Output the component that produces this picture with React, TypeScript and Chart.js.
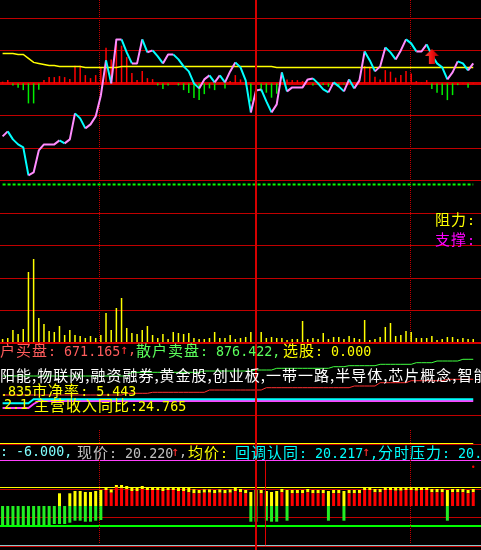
import React, { useEffect, useRef } from 'react';
import { Chart, registerables } from 'chart.js';

Chart.register(...registerables);

// ---------- session slots (93 minute slots, the last one still open) ----------
const slots: string[] = Array.from({ length: 93 }, (_, i) => `m${i + 1}`);

// ---------- intraday price panel ----------
const lastPrice = [
  20.147, 20.152, 20.144, 20.139, 20.136, 20.108, 20.111, 20.133, 20.139, 20.139,
  20.139, 20.143, 20.140, 20.144, 20.170, 20.165, 20.155, 20.159, 20.167, 20.188,
  20.223, 20.200, 20.244, 20.244, 20.231, 20.220, 20.220, 20.244, 20.231, 20.233,
  20.227, 20.220, 20.229, 20.229, 20.224, 20.217, 20.212, 20.200, 20.195, 20.204,
  20.208, 20.201, 20.208, 20.201, 20.212, 20.221, 20.216, 20.203, 20.171, 20.193,
  20.194, 20.182, 20.171, 20.179, 20.211, 20.192, 20.196, 20.196, 20.196, 20.204,
  20.205, 20.200, 20.194, 20.191, 20.201, 20.197, 20.192, 20.204, 20.195, 20.203,
  20.232, 20.223, 20.212, 20.217, 20.236, 20.231, 20.224, 20.233, 20.244, 20.240,
  20.232, 20.232, 20.239, 20.228, 20.220, 20.216, 20.204, 20.211, 20.222, 20.220,
  20.213, 20.220,
];

const avgPrice = [
  20.230, 20.230, 20.230, 20.229, 20.229, 20.225, 20.221, 20.220, 20.219, 20.218,
  20.218, 20.217, 20.217, 20.217, 20.217, 20.217, 20.216, 20.216, 20.216, 20.216,
  20.216, 20.216, 20.216, 20.217, 20.217, 20.217, 20.217, 20.217, 20.217, 20.217,
  20.217, 20.217, 20.217, 20.217, 20.217, 20.217, 20.217, 20.217, 20.217, 20.217,
  20.217, 20.217, 20.217, 20.217, 20.217, 20.217, 20.217, 20.217, 20.217, 20.217,
  20.217, 20.217, 20.217, 20.216, 20.216, 20.216, 20.216, 20.216, 20.216, 20.216,
  20.216, 20.216, 20.216, 20.216, 20.216, 20.216, 20.216, 20.216, 20.216, 20.216,
  20.216, 20.216, 20.216, 20.216, 20.216, 20.216, 20.216, 20.216, 20.216, 20.216,
  20.216, 20.216, 20.216, 20.216, 20.216, 20.216, 20.216, 20.216, 20.216, 20.216,
  20.216, 20.216,
];

const supportLevel = 20.099;
const buySignalSlot = 83;
const buySignalPrice = 20.227;

// red/green momentum bars around the zero line
const momentum = [
  1.7, 3.3, -2, -4.3, -6.7, -20, -20, -6.3, 3.3, 6.3,
  6.3, 7.3, 6.3, 4.3, 17.7, 17.7, 8.3, 5.3, 8.3, 16.3,
  35.7, 24, 40, 37.7, 26.3, 10.3, 3.3, 12.3, 5.3, 4.3,
  -2, -5.7, -2, 0, -2, -6.7, -9.7, -14.7, -16.7, -10.7,
  -5, -6.7, 0.7, -5, 2.3, 8.3, 4, -1.7, -18, -11.7,
  -8, -9.3, -14.3, -10.3, 1, 4, 3.3, 3.3, 2.3, 0,
  -2, -1.7, -1.7, -3.3, 0, -2, -1, 1, 1, 2,
  17.3, 16.7, 6.7, 4, 13.3, 11.7, 5.7, 8.3, 12.3, 10,
  2.3, 1, 3.3, -5.7, -9.3, -11.7, -16.7, -11.7, -1.7, 0.5,
  -4.3, 0.5,
];

// minute volume
const volume = [
  3, 4, 12, 8, 13, 70, 83, 24, 18, 11,
  10, 16, 7, 12, 7, 6, 4, 6, 4, 7,
  29, 12, 34, 44, 14, 9, 8, 12, 16, 7,
  4, 8, 3, 10, 9, 8, 9, 4, 3, 3,
  4, 10, 4, 4, 7, 3, 4, 5, 10, 5,
  10, 4, 5, 4, 4, 2, 3, 3, 21, 3,
  4, 3, 9, 3, 5, 5, 3, 6, 4, 3,
  22, 2, 3, 5, 15, 19, 6, 7, 11, 10,
  4, 4, 4, 6, 2, 3, 5, 5, 3, 4,
  3, 3,
];

// ---------- capital flow strip ----------
const flowGreen = [
  54, 54, 54, 54, 54, 54, 54, 54, 54, 54,
  54, 54, 54, 54, 54, 54, 54, 54, 54, 54,
  54, 54, 54, 54, 54, 57.7, 57.7, 57.7, 57.7, 57.7,
  57.7, 57.7, 57.7, 57.7, 57.7, 57.7, 57.7, 57.7, 57.7, 59,
  59, 59, 59, 59, 59, 59, 59, 59, 59, 60,
  60, 60, 60, 61.7, 61.7, 61.7, 61.7, 61.7, 61.7, 61.7,
  61.7, 61.7, 61.7, 61.7, 63.3, 63.3, 63.3, 64.3, 64.3, 64.3,
  64.3, 64.3, 64.3, 65.7, 65.7, 65.7, 65.7, 65.7, 65.7, 65.7,
  67.3, 67.3, 67.3, 67.3, 69, 69, 69, 69, 69, 70.7,
  70.7, 70.7,
];

const flowRed = [
  35, 35, 35, 35, 35, 35, 35, 35, 35, 35,
  35, 35, 35, 35, 35, 35, 35, 35, 35, 35,
  35, 35, 35, 35, 36.7, 36.7, 36.7, 36.7, 36.7, 37.7,
  37.7, 37.7, 37.7, 37.7, 37.7, 37.7, 37.7, 37.7, 37.7, 37.7,
  40, 40, 40, 40, 40, 40, 40, 40, 40, 40,
  40, 42.3, 42.3, 42.3, 42.3, 42.3, 42.3, 42.3, 42.3, 42.3,
  42.3, 42.3, 42.3, 42.3, 42.3, 42.3, 42.3, 42.3, 44, 44,
  44, 44, 44, 47.3, 47.3, 47.3, 47.3, 47.3, 47.3, 49.3,
  49.3, 49.3, 49.3, 49.3, 49.3, 49.3, 50.7, 50.7, 50.7, 50.7,
  50.7, 50.7,
];

const bandCyan = [
  26.7, 26.7, 26.7, 26.7, 26.7, 26.7, 30.7, 30.7, 30.7, 30.7,
  30.7, 30.7, 30.7, 30.7, 30.7, 30.7, 30.7, 30.7, 30.7, 30.7,
  30.7, 30.7, 30.7, 30.7, 30.7, 30.7, 30.7, 30.7, 30.7, 30.7,
  30.7, 30.7, 30.7, 30.7, 30.7, 30.7, 30.7, 30.7, 30.7, 30.7,
  30.7, 30.7, 30.7, 30.7, 30.7, 30.7, 30.7, 30.7, 30.7, 30.7,
  30.7, 30.7, 30.7, 30.7, 30.7, 30.7, 30.7, 30.7, 30.7, 30.7,
  30.7, 30.7, 30.7, 30.7, 30.7, 30.7, 30.7, 30.7, 30.7, 30.7,
  30.7, 30.7, 30.7, 30.7, 30.7, 30.7, 30.7, 30.7, 30.7, 30.7,
  30.7, 30.7, 30.7, 30.7, 30.7, 30.7, 30.7, 30.7, 30.7, 30.7,
  30.7, 30.7,
];

const bandMagenta = [
  22, 22, 22, 22, 22, 22, 26, 29, 29, 29,
  29, 29, 29, 29, 29, 29, 29, 29, 29, 29,
  29, 29, 29, 29, 29, 29, 29, 29, 29, 29,
  29, 29, 29, 29, 29, 29, 29, 29, 29, 29,
  29, 29, 29, 29, 29, 29, 29, 29, 29, 29,
  29, 29, 29, 29, 29, 29, 29, 29, 29, 29,
  29, 29, 29, 29, 29, 29, 29, 29, 29, 29,
  29, 29, 29, 29, 29, 29, 29, 29, 29, 29,
  29, 29, 29, 29, 29, 29, 29, 29, 29, 29,
  29, 29,
];

// ---------- strength bars (bottom strip) ----------
const strengthRed = [
  0, 0, 0, 0, 0, 0, 0, 0, 0, 0,
  0, 0, 0, 0, 0, 0, 0, 0, 0, 0,
  16, 13.3, 18.7, 17.7, 16.7, 15, 15, 17, 16, 16,
  16, 15, 16, 16, 15, 15, 13.7, 12.7, 12.7, 13.3,
  13.3, 12.7, 13.3, 12.7, 13.3, 15, 13.7, 12.7, 0, 0,
  12.7, 0, 0, 0, 13.7, 0, 12.7, 12.7, 12.7, 13.7,
  12.7, 12.7, 12.7, 0, 12.7, 12.7, 0, 12.7, 12.7, 12.7,
  16, 16, 13.7, 13.7, 16, 16, 15.3, 15.3, 16, 16,
  15.3, 16, 16, 13.7, 13.7, 13.7, 0, 13.7, 13.7, 13.7,
  12.7, 13.7,
];

const strengthYellow = [
  0, 0, 0, 0, 0, 0, 0, 0, 0, 0,
  0, 12.7, 0, 12.7, 15, 15, 14, 14, 15, 16,
  2.7, 3.3, 2.3, 3.3, 3.3, 3.7, 3.7, 3, 2.7, 2.7,
  2.7, 3.7, 2.7, 2.7, 3.7, 3.7, 5, 4, 3.3, 3.3,
  3.3, 3.3, 3.3, 3.3, 3.3, 3.7, 3.3, 3.3, 14, 16,
  3.3, 15, 14, 15, 3.3, 16, 3.3, 3.3, 3.3, 3.3,
  3.3, 3.3, 3.3, 15, 3.3, 3.3, 15, 3.3, 3.3, 3.3,
  2.7, 2.7, 3.3, 3.3, 2.7, 2.7, 3.3, 3.3, 2.7, 2.7,
  3.3, 2.7, 2.7, 3.3, 3.3, 3.3, 16, 3.3, 3.3, 3.3,
  3.3, 3.3,
];

const strengthGreen = [
  -19, -19, -19, -19, -19, -19, -19, -19, -19, -19,
  -18, -18, -18, -16.7, -14.7, -14.7, -15.7, -15.7, -14.7, -14,
  0, 0, 0, 0, 0, 0, 0, 0, 0, 0,
  0, 0, 0, 0, 0, 0, 0, 0, 0, 0,
  0, 0, 0, 0, 0, 0, 0, 0, -15.7, -15.7,
  0, -14.7, -15.7, -15.7, 0, -14.7, 0, 0, 0, 0,
  0, 0, 0, -14.7, 0, 0, -14.7, 0, 0, 0,
  0, 0, 0, 0, 0, 0, 0, 0, 0, 0,
  0, 0, 0, 0, 0, 0, -14.7, 0, 0, 0,
  0, 0,
];

const pressureTickSlot = 91;
const pressureTickValue = 39.3;

// ---------- colours ----------
const PINK = '#ff8cff';
const CYAN = '#00ffff';
const GRID = '#c00000';
const GRID_BOLD = '#d40000';
const RED = '#ff0000';
const GREEN = '#00ee00';
const YELLOW = '#ffff00';
const MAGENTA = '#ff40ff';

const MONO = '"DejaVu Sans Mono", monospace';
const HAN = '"Noto Sans CJK SC", sans-serif';

type HLine = { axis: string; value: number; color: string; width?: number; dash?: number[]; until?: number };
type VLine = { at: number; color: string; width?: number; dash?: number[]; axis?: string; from?: number; to?: number; front?: boolean };

// reference lines painted through the chart's own scales
function guides(h: HLine[], v: VLine[]) {
  const paint = (chart: any, front: boolean) => {
    const { ctx, chartArea: a, scales } = chart;
    const xs = scales.x;
    ctx.save();
    if (!front) {
      for (const l of h) {
        const w = l.width ?? 1;
        const p = scales[l.axis].getPixelForValue(l.value);
        const y = w % 2 ? Math.floor(p) + 0.5 : Math.round(p);
        const x2 = l.until != null ? xs.getPixelForValue(l.until) : a.right;
        ctx.beginPath();
        ctx.lineWidth = w;
        ctx.strokeStyle = l.color;
        ctx.setLineDash(l.dash ?? []);
        ctx.moveTo(a.left, y);
        ctx.lineTo(x2, y);
        ctx.stroke();
      }
    }
    for (const l of v) {
      if (!!l.front !== front) continue;
      const w = l.width ?? 1;
      const p = xs.getPixelForValue(l.at);
      const x = w % 2 ? Math.floor(p) + 0.5 : Math.round(p);
      const s = l.axis ? scales[l.axis] : null;
      const y1 = s && l.to != null ? s.getPixelForValue(l.to) : a.top;
      const y2 = s && l.from != null ? s.getPixelForValue(l.from) : a.bottom;
      ctx.beginPath();
      ctx.lineWidth = w;
      ctx.strokeStyle = l.color;
      ctx.setLineDash(l.dash ?? []);
      ctx.moveTo(x, y1);
      ctx.lineTo(x, y2);
      ctx.stroke();
    }
    ctx.restore();
  };
  return {
    id: 'guides',
    beforeDatasetsDraw: (c: any) => paint(c, false),
    afterDatasetsDraw: (c: any) => paint(c, true),
  };
}

function baseOptions(scales: Record<string, any>, stackedX = false) {
  return {
    responsive: false,
    maintainAspectRatio: false,
    animation: false as const,
    events: [],
    layout: { padding: 0, autoPadding: false },
    plugins: { legend: { display: false }, tooltip: { enabled: false } },
    scales: {
      x: { type: 'category', offset: true, display: false, stacked: stackedX },
      ...scales,
    },
  };
}

const hidden = (min: number, max: number, extra: Record<string, any> = {}) => ({
  type: 'linear', display: false, min, max, ...extra,
});

function upArrow(): HTMLCanvasElement {
  const c = document.createElement('canvas');
  c.width = 14;
  c.height = 15;
  const g = c.getContext('2d')!;
  const grad = g.createLinearGradient(0, 0, 14, 0);
  grad.addColorStop(0, '#ff4a3a');
  grad.addColorStop(0.5, '#f01010');
  grad.addColorStop(1, '#b00000');
  g.fillStyle = grad;
  g.beginPath();
  g.moveTo(7, 0);
  g.lineTo(14, 7);
  g.lineTo(10, 7);
  g.lineTo(10, 15);
  g.lineTo(4, 15);
  g.lineTo(4, 7);
  g.lineTo(0, 7);
  g.closePath();
  g.fill();
  return c;
}

const gridLevels = [0, 1, 2, 3, 4, 5, 6, 7, 8, 9, 10];
const PRICE_BASE = 20.2;

function buildPricePanel(el: HTMLCanvasElement) {
  const arrow = upArrow();
  return new Chart(el, {
    type: 'bar',
    data: {
      labels: slots,
      datasets: [
        {
          type: 'line',
          data: lastPrice.map((_, i) => (i === buySignalSlot ? buySignalPrice : null)),
          yAxisID: 'yPrice',
          showLine: false,
          pointStyle: arrow as any,
          pointRadius: 7,
          order: 0,
        },
        {
          type: 'line',
          data: lastPrice,
          yAxisID: 'yPrice',
          borderWidth: 2,
          borderColor: PINK,
          pointRadius: 0,
          borderJoinStyle: 'round',
          segment: {
            borderColor: (s: any) => (s.p1.parsed.y >= s.p0.parsed.y ? PINK : CYAN),
          },
          order: 1,
        },
        {
          type: 'line',
          data: avgPrice,
          yAxisID: 'yPrice',
          borderWidth: 1.5,
          borderColor: YELLOW,
          pointRadius: 0,
          order: 2,
        },
        {
          type: 'line',
          data: lastPrice.map(() => supportLevel),
          yAxisID: 'yPrice',
          borderWidth: 2,
          borderColor: '#00ff00',
          borderDash: [3, 2],
          pointRadius: 0,
          order: 3,
        },
        {
          type: 'bar',
          data: momentum.map((v) => v || null),
          yAxisID: 'yOsc',
          backgroundColor: momentum.map((v) => (v >= 0 ? RED : GREEN)),
          barThickness: 1.5,
          grouped: false,
          inflateAmount: 0,
          order: 4,
        },
        {
          type: 'bar',
          data: volume,
          yAxisID: 'yVol',
          backgroundColor: YELLOW,
          barThickness: 1.5,
          grouped: false,
          inflateAmount: 0,
          order: 5,
        },
      ],
    } as any,
    options: baseOptions({
      yPrice: hidden(PRICE_BASE - 0.2606, PRICE_BASE + 0.0834),
      yOsc: hidden(-260.6, 83.4),
      yVol: hidden(-2, 342),
      yGrid: hidden(-1 / 32.45, -1 / 32.45 + 344 / 32.45),
    }) as any,
    plugins: [
      guides(
        gridLevels.map((k) => ({
          axis: 'yGrid',
          value: k,
          color: k === 0 || k === 8 ? GRID_BOLD : GRID,
          width: k === 0 ? 2 : k === 8 ? 3 : 1,
        })),
        [
          { at: 18.83, color: GRID, dash: [1, 1] },
          { at: 78.83, color: GRID, dash: [1, 1] },
          { at: 49, color: GRID_BOLD, width: 2, front: true },
        ],
      ),
    ],
  });
}

function buildFlowPanel(el: HTMLCanvasElement) {
  const line = (data: number[], color: string, width: number) => ({
    type: 'line',
    data,
    yAxisID: 'yFlow',
    borderColor: color,
    borderWidth: width,
    pointRadius: 0,
  });
  return new Chart(el, {
    type: 'line',
    data: {
      labels: slots,
      datasets: [
        line(bandCyan, CYAN, 2),
        line(bandMagenta, MAGENTA, 2),
        line(flowGreen, '#40ff40', 1),
        line(flowRed, '#ff3030', 1),
      ],
    } as any,
    options: baseOptions({ yFlow: hidden(0, 86) }) as any,
    plugins: [
      guides(
        [{ axis: 'yFlow', value: 14.7, color: GRID }],
        [{ at: 49, color: GRID_BOLD, width: 2, front: true }],
      ),
    ],
  });
}

function buildBarPanel(el: HTMLCanvasElement) {
  const bar = (data: number[], color: string) => ({
    type: 'bar',
    data: data.map((v) => v || null),
    yAxisID: 'yStrength',
    backgroundColor: color,
    barThickness: 3,
    inflateAmount: 0,
    stack: 'strength',
  });
  return new Chart(el, {
    type: 'bar',
    data: {
      labels: slots,
      datasets: [
        bar(strengthRed, RED),
        bar(strengthYellow, YELLOW),
        bar(strengthGreen, '#22ee22'),
        {
          type: 'line',
          data: strengthRed.map((_, i) => (i === pressureTickSlot ? pressureTickValue : null)),
          yAxisID: 'yTick',
          showLine: false,
          pointRadius: 1.2,
          pointBorderWidth: 0,
          pointBackgroundColor: RED,
        },
      ],
    } as any,
    options: baseOptions(
      {
        yStrength: hidden(-44, 76, { stacked: true }),
        yTick: hidden(-44, 76),
      },
      true,
    ) as any,
    plugins: [
      guides(
        [
          { axis: 'yStrength', value: 62.7, color: YELLOW, until: 91 },
          { axis: 'yStrength', value: 61.5, color: GRID },
          { axis: 'yStrength', value: 45.3, color: MAGENTA },
          { axis: 'yStrength', value: 18.7, color: YELLOW },
          { axis: 'yStrength', value: 16.7, color: GRID },
          { axis: 'yStrength', value: -11.3, color: GRID },
          { axis: 'yStrength', value: -19.7, color: '#00ff00', width: 2 },
          { axis: 'yStrength', value: -39.3, color: '#8cc8c8' },
          { axis: 'yStrength', value: -40.7, color: GRID },
        ],
        [
          { at: 18.83, color: GRID, dash: [1, 1], axis: 'yStrength', from: -38 },
          { at: 78.83, color: GRID, dash: [1, 1], axis: 'yStrength', from: -38 },
          { at: 49, color: GRID_BOLD, width: 2, front: true },
          { at: 50.74, color: '#e00000', front: true, axis: 'yStrength', from: -39.3, to: 45.3 },
        ],
      ),
    ],
  });
}

function useChart(build: (el: HTMLCanvasElement) => Chart) {
  const ref = useRef<HTMLCanvasElement>(null);
  useEffect(() => {
    const chart = build(ref.current!);
    return () => chart.destroy();
  }, []);
  return ref;
}

// ---------- text readouts ----------
const HAN_RUN = /([\u2E80-\u9FFF\uFF00-\uFFEF]+)/;
const HAN_TEST = /[\u2E80-\u9FFF\uFF00-\uFFEF]/;

function Readout({ x, base, color, text, flat }: { x: number; base: number; color: string; text: string; flat?: boolean }) {
  const parts = text.split(HAN_RUN).filter(Boolean);
  return (
    <div
      style={{
        position: 'absolute',
        left: x,
        top: base - 14.5,
        whiteSpace: 'pre',
        color,
        lineHeight: '16px',
        fontFamily: MONO,
        fontSize: 13.33,
      }}
    >
      {parts.map((p, k) =>
        flat || HAN_TEST.test(p) ? (
          <span key={k} style={{ fontFamily: HAN, fontSize: 15, letterSpacing: 1 }}>
            {p}
          </span>
        ) : (
          <span key={k}>{p}</span>
        ),
      )}
    </div>
  );
}

const SALMON = '#ff5c5c';
const LIME = '#5cff5c';
const SILVER = '#c0c0c0';
const ICE = '#80ffff';

const readouts = [
  { x: 435, base: 225.5, color: YELLOW, text: '阻力:' },
  { x: 435, base: 245, color: '#ff00ff', text: '支撑:' },
  { x: -16, base: 356.5, color: SALMON, text: '散户买盘: 671.165' },
  { x: 120, base: 356.5, color: '#ff3030', text: '↑' },
  { x: 128, base: 356.5, color: SALMON, text: ',' },
  { x: 136, base: 356.5, color: LIME, text: '散户卖盘: 876.422,' },
  { x: 283, base: 356.5, color: YELLOW, text: '选股: 0.000' },
  {
    x: -16,
    base: 381.5,
    color: '#ffffff',
    text: '太阳能,物联网,融资融券,黄金股,创业板,一带一路,半导体,芯片概念,智能电网',
    flat: true,
  },
  { x: 0, base: 396.7, color: YELLOW, text: '.835市净率: 5.443' },
  { x: 4, base: 411.7, color: YELLOW, text: '2.1' },
  { x: 34, base: 411.7, color: YELLOW, text: '主营收入同比:24.765' },
  { x: 0, base: 458.3, color: ICE, text: ': -6.000,' },
  { x: 77, base: 458.3, color: SILVER, text: '现价: 20.220' },
  { x: 171, base: 458.3, color: '#ff3030', text: '↑' },
  { x: 179, base: 458.3, color: SILVER, text: ',' },
  { x: 188, base: 458.3, color: YELLOW, text: '均价:' },
  { x: 235, base: 458.3, color: CYAN, text: '回调认同: 20.217' },
  { x: 362, base: 458.3, color: '#ff3030', text: '↑' },
  { x: 370, base: 458.3, color: CYAN, text: ',分时压力: 20.22' },
];

export default function App() {
  const priceRef = useChart(buildPricePanel);
  const flowRef = useChart(buildFlowPanel);
  const barRef = useChart(buildBarPanel);
  return (
    <div
      style={{
        position: 'fixed',
        left: 0,
        top: 0,
        width: 481,
        height: 550,
        background: '#000',
        overflow: 'hidden',
      }}
    >
      <canvas ref={priceRef} width={481} height={344} style={{ position: 'absolute', left: 0, top: 0 }} />
      <canvas ref={flowRef} width={481} height={86} style={{ position: 'absolute', left: 0, top: 344 }} />
      <canvas ref={barRef} width={481} height={120} style={{ position: 'absolute', left: 0, top: 430 }} />
      {readouts.map((r, i) => (
        <Readout key={i} {...r} />
      ))}
    </div>
  );
}
